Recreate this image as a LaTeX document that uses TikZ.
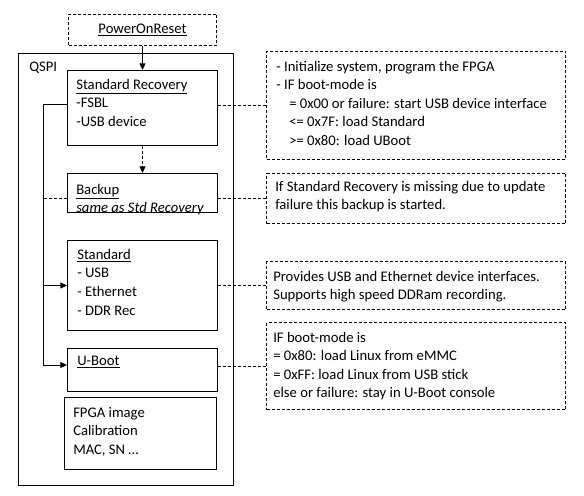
\documentclass[tikz,border=0pt]{standalone}
\usepackage{fontspec}
\setmainfont{Carlito}
\usetikzlibrary{arrows.meta}
\begin{document}
\begin{tikzpicture}[x=0.75pt,y=-0.75pt,
 box/.style={draw, line width=0.75pt, inner sep=0pt, anchor=north west},
 dbox/.style={box, dash pattern=on 2.25pt off 1.5pt},
 txt/.style={inner sep=0pt, anchor=north west, align=left, font=\fontsize{11}{13.9}\selectfont},
 con/.style={line width=0.75pt},
 dcon/.style={con, dash pattern=on 2.25pt off 1.5pt},
 tip/.style={-{Triangle[length=5pt,width=4.5pt]}}]
\useasboundingbox (0,0) rectangle (584,495);
\fill[white] (0,0) rectangle (584,495);
% boxes
\node[dbox, minimum width=111pt, minimum height=23.25pt, font=\fontsize{11}{13.9}\selectfont] (por) at (68,14) {\underline{PowerOnReset}};
\node[box, minimum width=161.25pt, minimum height=324pt] (qspi) at (18,53) {};
\node[box, minimum width=112.5pt, minimum height=56.25pt] (sr) at (67,70) {};
\node[box, minimum width=112.5pt, minimum height=29.25pt] (bk) at (67,173) {};
\node[box, minimum width=112.5pt, minimum height=67.5pt] (std) at (67,240) {};
\node[box, minimum width=112.5pt, minimum height=32.25pt] (ub) at (67,348) {};
\node[box, minimum width=114pt, minimum height=54pt] (fp) at (64,397) {};
\node[dbox, minimum width=224.25pt, minimum height=81pt] (b1) at (266,51) {};
\node[dbox, minimum width=224.25pt, minimum height=37.5pt] (b2) at (266,173) {};
\node[dbox, minimum width=224.25pt, minimum height=36pt] (b3) at (266,261) {};
\node[dbox, minimum width=224.25pt, minimum height=65.25pt] (b4) at (266,322) {};
% texts
\node[txt] (qspit) at (29,62) {QSPI};
\node[txt] (srt) at (76,79) {\underline{Standard Recovery}\\-FSBL\\-USB device};
\node[txt] (bkt) at (76,184) {\underline{Backup}\\\textit{same as Std Recovery}};
\node[txt] (stdt) at (77,249) {\underline{Standard}\\- USB\\- Ethernet\\- DDR Rec};
\node[txt] (ubt) at (77,356) {\underline{U-Boot}};
\node[txt] (fpt) at (73,407) {FPGA image\\Calibration\\MAC, SN …};
\node[txt] (b1t) at (276,60.7) {- Initialize system, program the FPGA\\- IF boot-mode is\\\hspace*{9.75pt}= 0x00 or failure: start USB device interface\\\hspace*{9.75pt}<= 0x7F: load Standard\\\hspace*{9.75pt}>= 0x80: load UBoot};
\node[txt] (b2t) at (275,180.7) {If Standard Recovery is missing due to update\\failure this backup is started.};
\node[txt] (b3t) at (273,270.7) {Provides USB and Ethernet device interfaces.\\Supports high speed DDRam recording.};
\node[txt] (b4t) at (273,331.7) {IF boot-mode is\\= 0x80: load Linux from eMMC\\= 0xFF: load Linux from USB stick\\else or failure: stay in U-Boot console};
% connectors
\coordinate (lv) at (43,105);
\coordinate (lb) at (43,365);
\draw[con,tip] (por.south) -- (sr.north);
\draw[dcon,tip] (sr.south) -- (bk.north);
\draw[con] (sr.west|-lv) -- (lv) -- (lb);
\draw[con,tip] (lb) -- (ub.west|-lb);
\draw[con,tip] (lv|-std.west) -- (std.west);
\draw[dcon] (bk.west|-b2.west) -- (lv|-b2.west);
\draw[dcon] (sr.east|-b1.west) -- (b1.west);
\draw[dcon] (bk.east|-b2.west) -- (b2.west);
\draw[dcon] (std.east|-b3.west) -- (b3.west);
\draw[dcon] (ub.east|-b4.west) -- (b4.west);
\end{tikzpicture}
\end{document}
